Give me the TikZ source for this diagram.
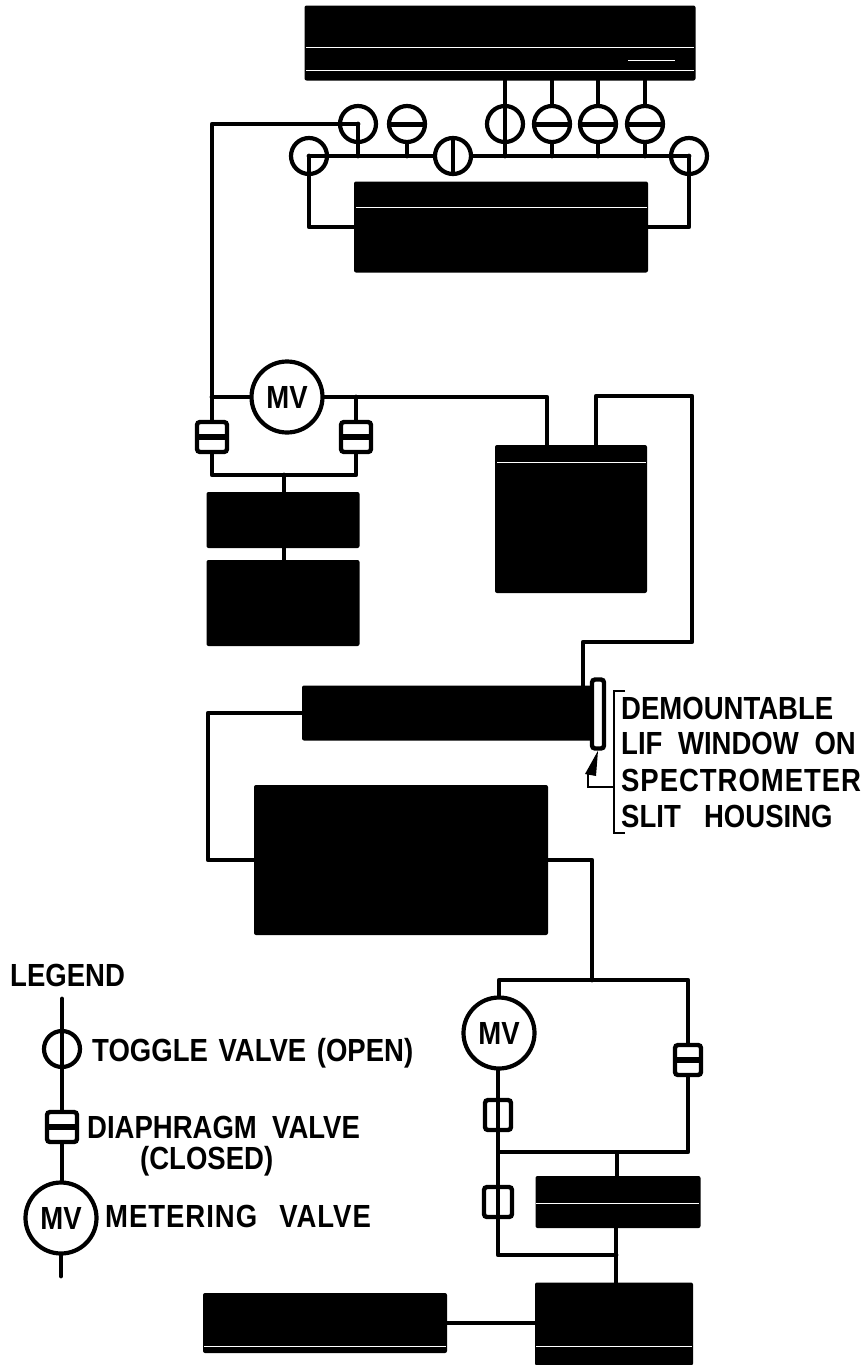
\documentclass[tikz,border=0pt]{standalone}
\usepackage{fontspec}
\usepackage{tikz}
\setmainfont{Liberation Sans}[BoldFont=* Bold,FakeStretch=0.86]
\tikzset{
  pipe/.style={line width=4.8pt, line join=round, line cap=round},
  darkbox/.style={fill=black, rounded corners=2pt, inner sep=0pt},
  scratch/.style={white, line width=1pt},
  togglev/.style={circle, draw, line width=4.2pt, minimum size=36pt, inner sep=0pt},
  shutv/.style={togglev, path picture={\draw[line width=5pt] (path picture bounding box.west) -- (path picture bounding box.east);}},
  openv/.style={togglev, path picture={\draw[line width=4.8pt] (path picture bounding box.north) -- (path picture bounding box.south);}},
  diaphv/.style={rectangle, draw, rounded corners=3pt, line width=4.4pt, minimum size=30pt, inner sep=0pt},
  diaphshut/.style={diaphv, path picture={\draw[line width=5.5pt] (path picture bounding box.west) -- (path picture bounding box.east);}},
  diaphopen/.style={diaphv, path picture={\draw[line width=4.8pt] (path picture bounding box.north) -- (path picture bounding box.south);}},
  meterv/.style={circle, draw, line width=4.2pt, minimum size=71pt, inner sep=0pt, font=\fontsize{32}{34}\selectfont\bfseries},
  lbl/.style={anchor=west, inner sep=0pt, font=\fontsize{32}{34}\selectfont\bfseries},
  wide/.style={font=\fontsize{32}{34}\selectfont\bfseries\addfontfeature{LetterSpace=3}},
}

\begin{document}
\begin{tikzpicture}[x=1pt, y=-1pt]
  \useasboundingbox (0,0) rectangle (865,1365);

  \node[darkbox, minimum width=391pt, minimum height=75pt] (boxTop) at (500,43) {};
  \node[darkbox, minimum width=294pt, minimum height=91pt] (boxManifold) at (501,227) {};
  \node[darkbox, minimum width=153pt, minimum height=56pt] (boxPumpA) at (283,520) {};
  \node[darkbox, minimum width=153pt, minimum height=86pt] (boxPumpB) at (283,603) {};
  \node[darkbox, minimum width=152pt, minimum height=148pt] (boxTrap) at (571,519) {};
  \node[darkbox, minimum width=290pt, minimum height=55pt] (boxTube) at (447,713) {};
  \node[darkbox, minimum width=294pt, minimum height=150pt] (boxMain) at (401,860) {};
  \node[darkbox, minimum width=165pt, minimum height=52pt] (boxFore) at (618,1202) {};
  \node[darkbox, minimum width=158pt, minimum height=83pt] (boxEndB) at (614,1324) {};
  \node[darkbox, minimum width=244pt, minimum height=60pt] (boxEndA) at (325,1323) {};

  \draw[scratch] (306,47) -- (694,47);
  \draw[scratch] (306,70) -- (694,70);
  \draw[scratch] (628,60) -- (675,60);
  \draw[scratch] (356,207) -- (647,207);
  \draw[scratch] (497,462) -- (646,462);
  \draw[scratch] (536,1203) -- (699,1203);
  \draw[scratch] (204,1346) -- (446,1346);
  \draw[scratch] (536,1346) -- (692,1346);

  \node[togglev] (vFeed) at (358,124) {};
  \node[shutv] (vAir) at (407,124) {};
  \node[togglev] (vLeft) at (309,156) {};
  \node[openv] (vMid) at (453,156) {};
  \node[togglev] (vRight) at (689,156) {};
  \node[openv] (vGasA) at (505,124) {};
  \foreach \vname/\xx in {vGasB/552, vGasC/598, vGasD/645}
    \node[shutv] (\vname) at (\xx,124) {};

  \node[meterv] (mvUp) at (287,397) {MV};
  \node[diaphshut] (dUpL) at (212,437) {};
  \node[diaphshut] (dUpR) at (356,437) {};
  \node[meterv] (mvLow) at (499,1033) {MV};
  \node[diaphshut, minimum width=26pt] (dLowR) at (688,1060) {};
  \node[diaphopen, minimum width=26pt] (dLowA) at (498,1115) {};
  \node[diaphopen, minimum width=28pt] (dLowB) at (498,1202) {};
  \node[rectangle, draw, fill=white, rounded corners=3pt, line width=4.4pt, minimum width=12pt, minimum height=69pt, inner sep=0pt] (window) at (598,714) {};

  \coordinate (upRail) at (284,475);
  \coordinate (bendTrap) at (692,396);
  \coordinate (bendTube) at (583,642);
  \coordinate (lowRail) at (592,980);
  \coordinate (midRail) at (617,1152);
  \coordinate (endRail) at (616,1255);

  \draw[pipe] (vLeft.center) -- (vMid.west);
  \draw[pipe] (vMid.east) -- (vRight.center);
  \draw[pipe] (vFeed.center) -- (vFeed.center |- vLeft.center);
  \draw[pipe] (vAir.south) -- (vAir.south |- vLeft.center);
  \foreach \vname in {vGasA, vGasB, vGasC, vGasD} {
    \draw[pipe] (\vname.north |- boxTop.south) -- (\vname.north);
    \draw[pipe] (\vname.south) -- (\vname.south |- vLeft.center);
  }
  \draw[pipe] (vLeft.center) |- (boxManifold.west);
  \draw[pipe] (vRight.center) |- (boxManifold.east);
  \draw[pipe] (vFeed.center) -| (dUpL.north);
  \draw[pipe] (dUpL.north |- mvUp.west) -- (mvUp.west);
  \draw[pipe] (mvUp.east) -| (547,445);
  \draw[pipe] (dUpR.north) -- (dUpR.north |- mvUp.east);
  \draw[pipe] (dUpL.south) |- (upRail) -| (dUpR.south);
  \draw[pipe] (upRail) -- (upRail |- boxPumpA.north);
  \draw[pipe] (upRail |- boxPumpA.south) -- (upRail |- boxPumpB.north);
  \draw[pipe] (596,445) |- (bendTrap) |- (bendTube) -- (bendTube |- boxTube.north);

  \draw[pipe] (boxTube.west) -| (208,785) |- (boxMain.west);
  \draw[pipe] (boxMain.east) -| (lowRail);
  \draw[pipe] (mvLow.north) |- (lowRail) -| (dLowR.north);
  \draw[pipe] (mvLow.south -| dLowA.north) -- (dLowA.north);
  \draw[pipe] (dLowR.south) |- (midRail);
  \draw[pipe] (dLowA.south) |- (midRail) -- (midRail |- boxFore.north);
  \draw[pipe] (dLowA.south) -- (dLowB.north);
  \draw[pipe] (dLowB.south) |- (endRail);
  \draw[pipe] (endRail |- boxFore.south) -- (endRail |- boxEndB.north);
  \draw[pipe] (boxEndA.east) -- (boxEndA.east -| boxEndB.west);

  \coordinate (brTop) at (625,691);
  \coordinate (brLead) at (614,787);
  \coordinate (brBot) at (625,833);
  \draw[line width=2.8pt] (brTop) -- (614,691) -- (614,833) -- (brBot);
  \draw[line width=2.8pt] (brLead) -- (588,787) -- (588,774);
  \fill (window.south) -- (585,774) -- (596,776) -- cycle;

  \node[lbl] (noteA) at (621,708) {DEMOUNTABLE};
  \node[lbl] (noteB) at (621,743) {LIF\hspace{8pt} WINDOW\hspace{8pt} ON};
  \node[lbl, wide] (noteC) at (621,780) {SPECTROMETER};
  \node[lbl] (noteD) at (621,816) {SLIT\ \ \hspace{8pt}HOUSING};

  \node[lbl] (legHead) at (10,975) {LEGEND};
  \coordinate (legTop) at (62,999);
  \coordinate (legEnd) at (61,1276);
  \node[openv] (legT) at (62,1049) {};
  \node[diaphshut] (legD) at (62,1127) {};
  \node[meterv] (legM) at (61,1218) {MV};
  \draw[pipe] (legTop) -- (legT.north);
  \draw[pipe] (legT.south) -- (legD.north);
  \draw[pipe] (legD.south) -- (legD.south |- legM.north);
  \draw[pipe] (legM.south) -- (legEnd);
  \node[lbl] (legTxtT) at (92,1053) {TOGGLE\ \hspace{3pt}VALVE\hspace{3pt} (OPEN)};
  \node[lbl] (legTxtD) at (87,1127) {DIAPHRAGM\ \ VALVE};
  \node[lbl] (legTxtC) at (140,1161) {(CLOSED)};
  \node[lbl, wide] (legTxtM) at (105,1216) {METERING\ \ \hspace{5pt}VALVE};
\end{tikzpicture}
\end{document}
